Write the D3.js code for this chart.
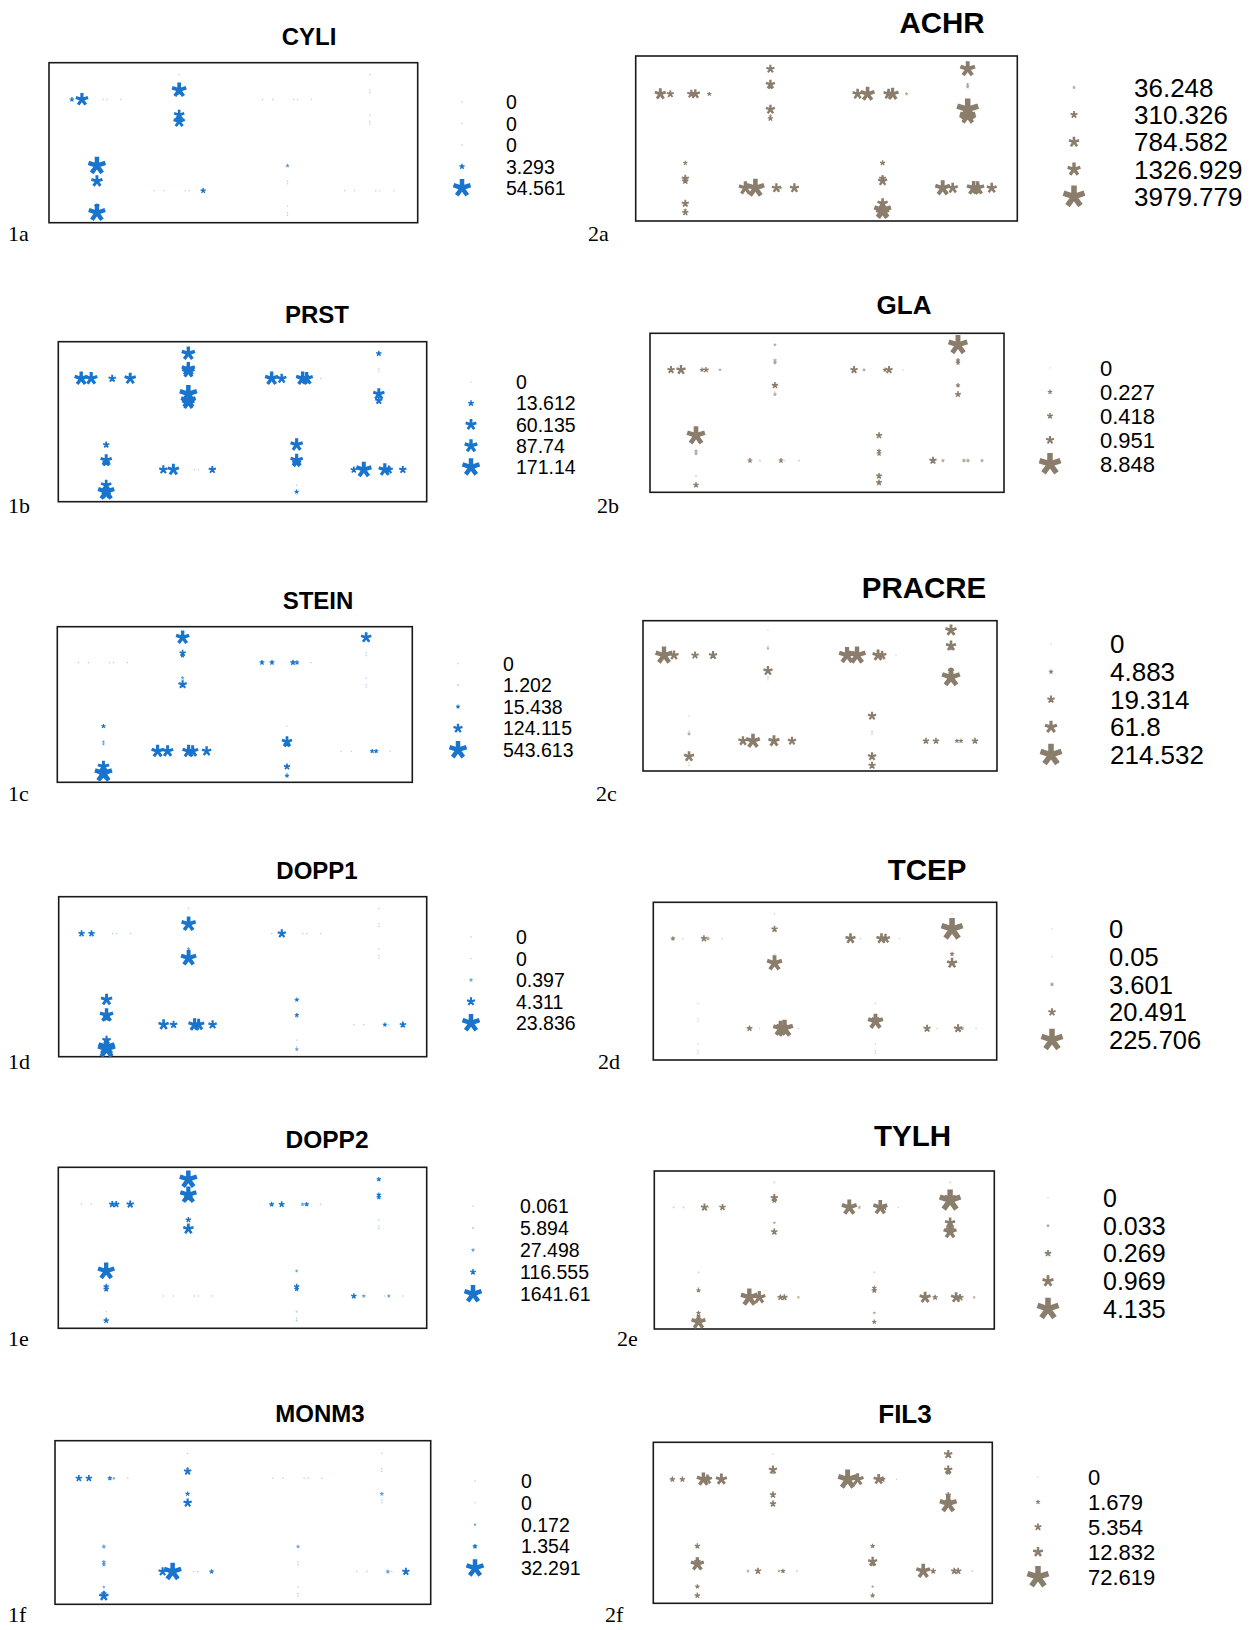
<!DOCTYPE html>
<html>
<head>
<meta charset="utf-8">
<script src="https://cdn.jsdelivr.net/npm/d3@7"></script>
<style>
  body { margin: 0; background: #fff; }
  svg { display: block; }
</style>
</head>
<body>
<div id="chart"></div>
<script>
// sites along an arm, on a 0-50 scale
const hSites = [0, 10, 31, 35, 49];
const vSites = [0, 15.5, 18, 40.5, 47, 49.5];
// arm order: top row col1(h) col2(v) col3(h) col4(v), bottom row col1(v) col2(h) col3(v) col4(h)
const armKinds = ["h", "v", "h", "v", "v", "h", "v", "h"];
const armCols = [0, 1, 2, 3, 0, 1, 2, 3];
const armRows = [0, 0, 0, 0, 1, 1, 1, 1];

const cyliLegend = [0, 0, 0, 3.293, 54.561];
const cyliValues = [
  [2.3, 26, 0, 0, 0], [0, 36, 3.4, 17, 21, 0], [0, 0, 0, 0, 0], [0, 0, 0, 0, 0, 0],
  [54.561, 21, 0, 3.3, 50, 0], [0, 0, 0, 0, 3.3], [1, 0, 0, 0, 0, 0], [0, 0, 0, 0, 0]
];
const prstLegend = [0, 13.612, 60.135, 87.74, 171.14];
const prstValues = [
  [96, 81, 24, 0, 67], [96, 96, 81, 171.14, 120, 80], [96, 43, 96, 81, 0], [11, 0, 0, 67, 24, 0],
  [17, 67, 24, 54, 150, 40], [33, 67, 0, 0, 24], [81, 81, 40, 0, 6, 0], [17, 131, 81, 30, 24]
];
const steinLegend = [0, 1.202, 15.438, 124.115, 543.613];
const steinValues = [
  [0, 0, 0, 0, 0], [305, 53, 19, 8, 104, 0], [26, 26, 34, 19, 0], [172, 0, 0, 0, 0, 0],
  [19, 3, 3, 212, 543.613, 100], [256, 212, 256, 212, 136], [0, 172, 53, 53, 0, 19], [0, 0, 19, 19, 0]
];
const dopp1Legend = [0, 0, 0.397, 4.311, 23.836];
const dopp1Values = [
  [2.3, 2.3, 0, 0, 0], [0, 15.7, 0, 0.4, 0, 18.2], [0, 4.6, 0, 0, 0], [0, 0, 0, 0, 0, 0],
  [9.3, 13.4, 3, 4.6, 20, 23.836], [7.5, 3.4, 11.3, 9.3, 4.6], [0.8, 0.8, 0, 0, 0, 0.4], [0, 0, 0.8, 0, 2.3]
];
const dopp2Legend = [0.061, 5.894, 27.498, 116.555, 1641.61];
const dopp2Values = [
  [0, 0, 160, 160, 231], [1641.61, 1440, 300, 100, 30, 520], [78, 130, 26, 58, 0], [58, 58, 58, 0, 0, 0],
  [1500, 100, 100, 0, 0, 100], [0, 0, 0, 0, 0], [14, 100, 58, 6, 0, 6], [100, 30, 0, 26, 0]
];
const monm3Legend = [0, 0, 0.172, 1.354, 32.291];
const monm3Values = [
  [3.2, 3.2, 1.1, 0.2, 0], [0, 0.2, 4.5, 1.1, 0, 6.2], [0, 0, 0, 0, 0], [0, 0, 0, 0.8, 0, 0],
  [0.8, 0.8, 0.8, 0.2, 2, 8], [6.2, 32.291, 0, 0, 1.1], [0.5, 0, 0, 0, 0, 0], [0, 0, 0.8, 0, 4.5]
];
const achrLegend = [36.248, 310.326, 784.582, 1326.929, 3979.779];
const achrValues = [
  [930, 334, 455, 595, 84], [455, 595, 100, 595, 36, 149], [753, 1570, 753, 1124, 36], [1821, 36.248, 36.248, 3979.779, 2000, 36],
  [84, 334, 232, 334, 36, 232], [1338, 2685, 595, 36, 595], [149, 310, 595, 784, 2380, 1326], [1821, 800, 1500, 1326, 753]
];
const glaLegend = [0, 0.227, 0.418, 0.951, 8.848];
const glaValues = [
  [0.76, 1.35, 0.19, 0.34, 0.05], [0.05, 0.1, 0.1, 0.53, 0, 0.1], [0.76, 0.08, 0.19, 0.76, 0], [6.8, 0.19, 0.19, 0.19, 0, 0.43],
  [6.1, 0.08, 0.08, 0.02, 0, 0.34], [0.26, 0.02, 0.26, 0, 0.02], [0.53, 0.19, 0.26, 0.43, 0.43, 0], [0.76, 0.08, 0.13, 0.13, 0.08]
];
const pracreLegend = [0, 4.883, 19.314, 61.8, 214.532];
const pracreValues = [
  [131, 33, 18, 0, 25], [0, 0, 1, 33, 0.5, 0], [115, 131, 51, 30, 0], [51, 41, 5, 13, 148, 20],
  [0, 0.5, 2, 41, 0, 0.5], [33, 86, 51, 0, 25], [25, 0.5, 0.5, 25, 0, 18], [13, 13, 4.6, 4.6, 13]
];
const tcepLegend = [0, 0.05, 3.601, 20.491, 225.706];
const tcepValues = [
  [4.8, 0.05, 13, 3.6, 0.05], [0.05, 13, 0, 0, 0, 105], [43, 0.05, 43, 34, 0], [0.05, 225.706, 20, 4.8, 0, 43],
  [0, 0, 0, 0, 0, 0.05], [11, 0.05, 100, 137, 0.05], [0.05, 20, 105, 0.05, 0, 0.05], [19, 0.05, 26, 3.6, 0.05]
];
const tylhLegend = [0, 0.033, 0.269, 0.969, 4.135];
const tylhValues = [
  [0.01, 0.01, 0.35, 0, 0.25], [0.01, 0.35, 0.16, 0.02, 0, 0.25], [1.93, 0.03, 1.66, 0.2, 0], [0.01, 1.0, 4.0, 0.8, 0.5, 1.42],
  [0.01, 0.01, 0.09, 0.09, 0.2, 1.66], [2.52, 1.2, 0.2, 0.25, 0.02], [0.01, 0.09, 0.16, 0.02, 0, 0.09], [0.98, 0.16, 0.8, 0.3, 0.02]
];
const fil3Legend = [0, 1.679, 5.354, 12.832, 72.619];
const fil3Values = [
  [2.8, 2.8, 25, 12, 17], [0, 8.5, 1, 4.3, 0, 4.3], [56, 20, 14, 3, 0], [8.5, 8.5, 2.8, 2.8, 5, 44],
  [2.8, 5, 25, 1.6, 0, 2.8], [0.5, 4.3, 0.5, 1.6, 0.2], [1.6, 11, 2, 0.3, 0, 1.6], [29, 2.8, 4.3, 4.3, 0.2]
];

const blue = "#1874CD";
const brown = "#8B7D6B";

// layout: box [x, y, w, h], title [x, baseline, size], legend [markerX, textX, y0, step, size], label [x, baseline]
const panels = [
  { id: "1a", name: "CYLI", legend: cyliLegend, values: cyliValues, color: blue, smax: 17,
    box: [49, 62.7, 368.7, 160], title: [309, 45, 24], key: [462, 506, 102, 21.5, 19.5], label: [8, 241] },
  { id: "1b", name: "PRST", legend: prstLegend, values: prstValues, color: blue, smax: 17,
    box: [58.3, 341.7, 368.4, 160], title: [317, 323, 24], key: [471, 516, 382, 21.3, 19.5], label: [8, 513] },
  { id: "1c", name: "STEIN", legend: steinLegend, values: steinValues, color: blue, smax: 17,
    box: [57.3, 626.7, 355, 155.6], title: [318, 609, 24], key: [458, 503, 663.5, 21.6, 19.5], label: [8, 801] },
  { id: "1d", name: "DOPP1", legend: dopp1Legend, values: dopp1Values, color: blue, smax: 17,
    box: [58.7, 896.7, 368, 160], title: [317, 879, 24], key: [471, 516, 937, 21.5, 19.5], label: [8, 1069] },
  { id: "1e", name: "DOPP2", legend: dopp2Legend, values: dopp2Values, color: blue, smax: 17,
    box: [58.3, 1167.3, 368.4, 161], title: [327, 1148, 24.5], key: [473, 520, 1206, 22, 19.5], label: [8, 1346] },
  { id: "1f", name: "MONM3", legend: monm3Legend, values: monm3Values, color: blue, smax: 17,
    box: [55, 1440.7, 375.7, 163.6], title: [320, 1422, 24], key: [475, 521, 1481, 21.8, 19.5], label: [8, 1622] },
  { id: "2a", name: "ACHR", legend: achrLegend, values: achrValues, color: brown, smax: 21,
    box: [635.7, 56, 381.6, 165], title: [942, 33, 29.5], key: [1074, 1134, 87.4, 27.3, 26], label: [588, 241] },
  { id: "2b", name: "GLA", legend: glaLegend, values: glaValues, color: brown, smax: 21,
    box: [650, 333.3, 354, 159], title: [904, 314, 26], key: [1050, 1100, 368, 24, 22], label: [597, 513] },
  { id: "2c", name: "PRACRE", legend: pracreLegend, values: pracreValues, color: brown, smax: 21,
    box: [643, 620.7, 354, 150.3], title: [924, 598, 29.5], key: [1051, 1110, 644, 27.7, 26], label: [596, 801] },
  { id: "2d", name: "TCEP", legend: tcepLegend, values: tcepValues, color: brown, smax: 21,
    box: [653.3, 902.3, 343.4, 157.7], title: [927, 880, 29.5], key: [1052, 1109, 929, 27.7, 25.5], label: [598, 1069] },
  { id: "2e", name: "TYLH", legend: tylhLegend, values: tylhValues, color: brown, smax: 21,
    box: [654.3, 1171, 340, 158], title: [912.5, 1146, 29.5], key: [1048, 1103, 1198, 27.7, 25], label: [617, 1346] },
  { id: "2f", name: "FIL3", legend: fil3Legend, values: fil3Values, color: brown, smax: 21,
    box: [653.3, 1442.3, 339, 161], title: [905, 1423, 26], key: [1038, 1088, 1477, 25, 22], label: [605, 1622] }
];

const colFrac = [0.13, 0.353, 0.647, 0.87];
const rowFrac = [0.23, 0.80];
const sans = "'Liberation Sans', Arial, sans-serif";

// five armed asterisk, size = visible width in px
const asterisk = {
  draw(ctx, size) {
    const r = size / 1.9;
    const w = Math.max(r * 0.5, 0.6);
    for (let k = 0; k < 5; k++) {
      const a = -Math.PI / 2 + k * 2 * Math.PI / 5;
      const ux = Math.cos(a), uy = Math.sin(a);
      const px = -uy * w / 2, py = ux * w / 2;
      ctx.moveTo(px, py);
      ctx.lineTo(ux * r + px, uy * r + py);
      ctx.lineTo(ux * r - px, uy * r - py);
      ctx.lineTo(-px, -py);
      ctx.closePath();
    }
  }
};

const svg = d3.select("#chart").append("svg")
  .attr("width", 1252)
  .attr("height", 1630);

// position along an arm
const armScale = d3.scaleLinear().domain([0, 50]).range([-25, 25]);
// tiny marks look washed out in the original
const fade = s => s < 2.5 ? 0.35 : (s < 4 ? 0.7 : 1);

panels.forEach(p => {
  const [bx, by, bw, bh] = p.box;
  const vmax = d3.max(p.legend);
  const size = d3.scaleSqrt().domain([0, vmax]).range([1.4, p.smax]);
  const x = d3.scaleLinear().domain([0, 1]).range([bx, bx + bw]);
  const y = d3.scaleLinear().domain([0, 1]).range([by, by + bh]);
  const sym = d3.symbol().type(asterisk);

  const g = svg.append("g").attr("class", "panel-" + p.id);

  g.append("rect")
    .attr("x", bx).attr("y", by)
    .attr("width", bw).attr("height", bh)
    .attr("fill", "none")
    .attr("stroke", "#1a1a1a")
    .attr("stroke-width", 1.6);

  // flatten arms into marks
  let marks = [];
  p.values.forEach((arm, i) => {
    const sites = armKinds[i] === "h" ? hSites : vSites;
    const cx = x(colFrac[armCols[i]]);
    const cy = y(rowFrac[armRows[i]]);
    arm.forEach((v, j) => {
      const off = armScale(sites[j]);
      marks.push({
        x: armKinds[i] === "h" ? cx + off : cx,
        y: armKinds[i] === "h" ? cy : cy + off,
        v: v
      });
    });
  });
  marks.sort((a, b) => a.v - b.v);

  g.append("g").selectAll("path")
    .data(marks)
    .enter()
    .append("path")
    .attr("transform", d => `translate(${d.x},${d.y})`)
    .attr("d", d => sym.size(size(d.v))())
    .attr("fill", p.color)
    .attr("fill-opacity", d => fade(size(d.v)));

  // title
  g.append("text")
    .attr("x", p.title[0]).attr("y", p.title[1])
    .attr("text-anchor", "middle")
    .style("font-family", sans)
    .style("font-weight", "bold")
    .style("font-size", p.title[2] + "px")
    .text(p.name);

  // legend
  const [mx, tx, ly0, step, fs] = p.key;
  const rows = g.append("g").selectAll("g")
    .data(p.legend)
    .enter()
    .append("g")
    .attr("transform", (d, i) => `translate(0,${ly0 + i * step})`);
  rows.append("path")
    .attr("transform", `translate(${mx},0)`)
    .attr("d", d => sym.size(size(d))())
    .attr("fill", p.color)
    .attr("fill-opacity", d => fade(size(d)));
  rows.append("text")
    .attr("x", tx)
    .attr("dy", "0.36em")
    .style("font-family", sans)
    .style("font-size", fs + "px")
    .text(d => d);

  // panel label
  g.append("text")
    .attr("x", p.label[0]).attr("y", p.label[1])
    .style("font-family", "'Liberation Serif', 'Times New Roman', serif")
    .style("font-size", "22px")
    .text(p.id);
});
</script>
</body>
</html>
